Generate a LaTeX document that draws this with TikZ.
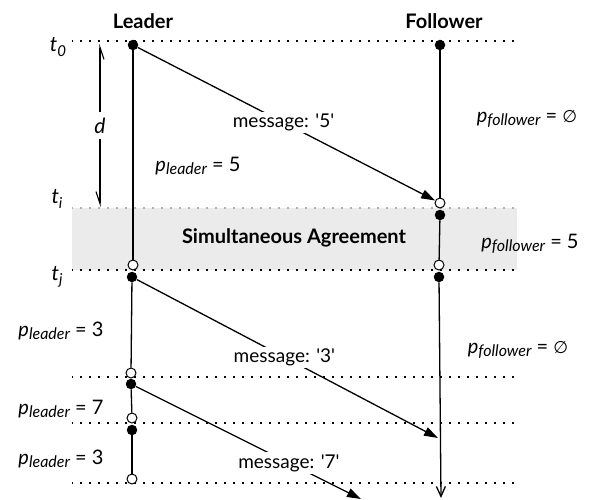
\documentclass[tikz,border=0pt]{standalone}
\usepackage{fontspec}
\setmainfont{Lato}
\newfontfamily\symfont{DejaVu Sans}
\usetikzlibrary{arrows.meta}
\newcommand{\pvar}[2]{\textit{p}\raisebox{-0.35ex}{\fontsize{16}{18}\selectfont\itshape #1} = #2}
\newcommand{\tvar}[1]{\textit{t}\raisebox{-0.4ex}{\fontsize{15}{17}\selectfont\itshape #1}}
\newcommand{\noval}{{\symfont\fontsize{17}{19}\selectfont ∅}}

\begin{document}
\begin{tikzpicture}[x=1pt, y=-1pt, font=\fontsize{19}{22}\selectfont,
    fdot/.style={circle, fill, inner sep=0pt, minimum size=10.5pt},
    odot/.style={circle, draw, fill=white, line width=1pt, inner sep=0pt, minimum size=10pt},
    life/.style={line width=1.3pt},
    msg/.style={line width=1.3pt, -{Triangle[length=14pt, width=9pt]}},
    msglabel/.style={fill=white, inner sep=2pt},
    tick/.style={line width=1.4pt, dash pattern=on 1.4pt off 7.6pt, dash phase=0.7pt},
    tlabel/.style={font=\fontsize{21}{23}\selectfont},
    plabel/.style={font=\fontsize{20}{24}\selectfont},
    head/.style={font=\fontsize{20}{22}\selectfont\bfseries},
  ]
  \useasboundingbox (0,0) rectangle (595,499);

  % agreement band
  \fill[black!8] (72,208) rectangle (517,270);
  \node[head] (agree) at (294,238) {Simultaneous Agreement};

  % time lines
  \draw[tick, black!30] (72,208) -- (517,208);
  \foreach \y in {41,270,377,423,483}
    \draw[tick] (72,\y) -- (517,\y);

  % leader
  \node[fdot] (L0) at (133,45) {};
  \node[odot] (L1) at (133,265) {};
  \node[fdot] (L2) at (132,277) {};
  \node[odot] (L3) at (131,373) {};
  \node[fdot] (L4) at (131,384) {};
  \node[odot] (L5) at (132,418) {};
  \node[fdot] (L6) at (132,430) {};
  \node[odot] (L7) at (132,479) {};

  % follower
  \node[fdot] (F0) at (440,45) {};
  \node[odot] (F1) at (440,203) {};
  \node[fdot] (F2) at (440,215) {};
  \node[odot] (F3) at (439,265) {};
  \node[fdot] (F4) at (439,277) {};
  \coordinate (F5) at (441,498);

  \draw[life] (L0) -- (L1);
  \draw[life] (L2) -- (L3);
  \draw[life] (L4) -- (L5);
  \draw[life] (L6) -- (L7);
  \draw[life] (F0) -- (F1);
  \draw[life] (F2) -- (F3);
  \draw[life, -{Straight Barb[length=10pt, width=9pt]}] (F4) -- (F5);

  % messages
  \coordinate (M3) at (438,438);
  \coordinate (M7) at (361,499);
  \draw[msg] (L0) -- node[msglabel, pos=0.49] (msg5) {message: \textquotesingle5\textquotesingle} (F1);
  \draw[msg] (L2) -- node[msglabel, pos=0.49] (msg3) {message: \textquotesingle3\textquotesingle} (M3);
  \draw[msg] (L4) -- node[msglabel, pos=0.68] (msg7) {message: \textquotesingle7\textquotesingle} (M7);

  % delay
  \coordinate (dtop) at (100,44);
  \coordinate (dbot) at (100,207);
  \draw[line width=1.1pt, {Straight Barb[harpoon, swap, length=12pt, width=8pt]}-{Straight Barb[harpoon, swap, length=12pt, width=8pt]}]
    (dtop) -- node[fill=white, inner sep=6pt, font=\fontsize{21}{23}\selectfont\itshape] (d) {d} (dbot);

  % headings and labels
  \node[head] (leader) at (143,21) {Leader};
  \node[head] (follower) at (444,21) {Follower};
  \node[tlabel] (t0) at (58,47) {\tvar{0}};
  \node[tlabel] (ti) at (57,199) {\tvar{i}};
  \node[tlabel] (tj) at (57,277) {\tvar{j}};

  \node[plabel] (pl5) at (198,166) {\pvar{leader}{5}};
  \node[plabel] (pl3a) at (61,331) {\pvar{leader}{3}};
  \node[plabel] (pl7) at (61,409) {\pvar{leader}{7}};
  \node[plabel] (pl3b) at (61,459) {\pvar{leader}{3}};
  \node[plabel] (pfa) at (527,119) {\pvar{follower}{\noval}};
  \node[plabel] (pf5) at (530,244) {\pvar{follower}{5}};
  \node[plabel] (pfb) at (518,350) {\pvar{follower}{\noval}};
\end{tikzpicture}
\end{document}
